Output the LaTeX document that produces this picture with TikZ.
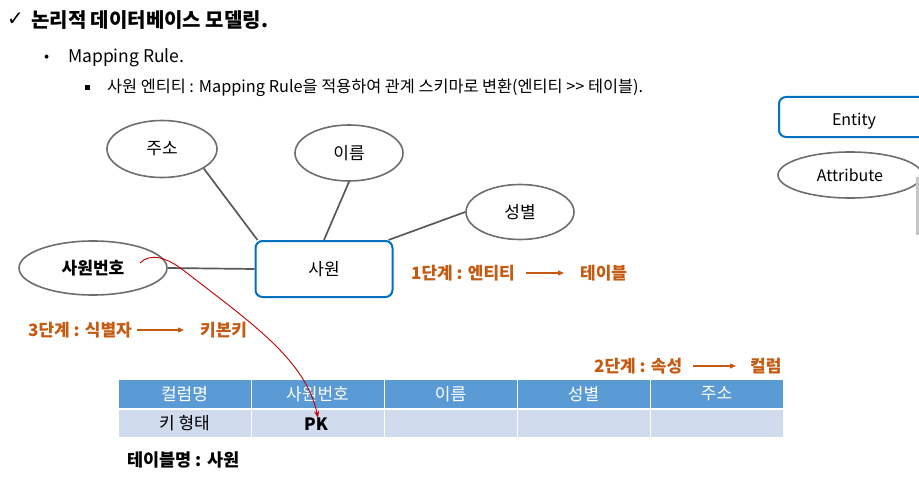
\documentclass[tikz,border=0pt]{standalone}
\usepackage{fontspec}
\setmainfont{Noto Sans CJK KR}
\newfontfamily\symfont{DejaVu Sans}
\usetikzlibrary{arrows.meta,shapes.geometric,calc}
\definecolor{orangec}{RGB}{197,90,17}
\definecolor{entblue}{RGB}{0,112,192}
\definecolor{hdrblue}{RGB}{91,155,213}
\definecolor{rowblue}{RGB}{208,220,238}
\definecolor{ellgray}{RGB}{110,110,110}
\definecolor{linegray}{RGB}{89,89,89}
\definecolor{redc}{RGB}{192,0,0}
\begin{document}
\begin{tikzpicture}[x=1pt,y=-1pt,
  attr/.style={ellipse,draw=ellgray,line width=1.6pt,inner sep=0pt,font=\fontsize{17}{20}\selectfont},
  entbox/.style={rectangle,rounded corners=7pt,draw=entblue,line width=2pt,inner sep=0pt,font=\fontsize{17}{20}\selectfont},
  link/.style={draw=linegray,line width=1.7pt},
  steptxt/.style={inner sep=0pt,anchor=west,text=orangec,font=\bfseries\fontsize{17}{20}\selectfont},
  steparrow/.style={draw=orangec,line width=1.4pt,-{Triangle[length=6pt,width=5pt]}},
  hdrcell/.style={rectangle,fill=hdrblue,draw=white,line width=1pt,minimum width=133pt,minimum height=29pt,inner sep=0pt,text=white,font=\fontsize{17}{20}\selectfont},
  rowcell/.style={rectangle,fill=rowblue,draw=white,line width=1pt,minimum width=133pt,minimum height=28pt,inner sep=0pt,font=\fontsize{17}{20}\selectfont},
  plain/.style={inner sep=0pt,anchor=west}
]
\clip (0,0) rectangle (919,487);
\fill[white] (0,0) rectangle (919,487);

% header texts
\node[plain] (chk) at (7,19) {\symfont\bfseries\fontsize{20}{24}\selectfont ✓};
\node[plain,font=\bfseries\fontsize{20}{24}\selectfont] (title) at (31,20) {논리적 데이터베이스 모델링.};
\node[plain,font=\fontsize{15}{18}\selectfont] (b1) at (44,58) {•};
\node[plain,font=\fontsize{17.5}{21}\selectfont] (t1) at (68,58) {Mapping Rule.};
\node[rectangle,fill=black,minimum size=5pt,inner sep=0pt] (b2) at (87,88) {};
\node[plain,font=\fontsize{16.3}{19}\selectfont] (t2) at (107,88) {사원 엔티티 : Mapping Rule을 적용하여 관계 스키마로 변환(엔티티 >{}> 테이블).};

% ER diagram
\node[attr,minimum width=110pt,minimum height=57pt] (addr) at (162,149) {주소};
\node[attr,minimum width=108pt,minimum height=56pt] (name) at (349,153) {이름};
\node[attr,minimum width=108pt,minimum height=55pt] (gender) at (520,212) {성별};
\node[attr,minimum width=148pt,minimum height=54pt,font=\bfseries\fontsize{17}{20}\selectfont] (sid) at (93,268) {사원번호};
\node[entbox,minimum width=137pt,minimum height=56pt] (ent) at (324,269) {사원};

\draw[link] (addr.-25) -- ([xshift=3pt]ent.north west);
\draw[link] (name.south) -- (ent.north);
\draw[link] (gender.west) -- ([xshift=-5pt]ent.north east);
\draw[link] (sid.east) -- (ent.west);

% step labels
\node[steptxt] (s1a) at (411,273) {1단계 : 엔티티};
\node[steptxt] (s1b) at (580,273) {테이블};
\draw[steparrow] ([xshift=11pt]s1a.east) -- ([xshift=-16pt]s1b.west);
\node[steptxt] (s3a) at (28,330) {3단계 : 식별자};
\node[steptxt] (s3b) at (200,330) {키본키};
\draw[steparrow] ([xshift=5pt]s3a.east) -- ([xshift=-16pt]s3b.west);
\node[steptxt] (s2a) at (594,366) {2단계 : 속성};
\node[steptxt] (s2b) at (750,366) {컬럼};
\draw[steparrow] ([xshift=11pt]s2a.east) -- ([xshift=-14pt]s2b.west);

% table
\node[hdrcell] (h1) at (184.5,394) {컬럼명};
\node[hdrcell] (h2) at (317.5,394) {사원번호};
\node[hdrcell] (h3) at (450.5,394) {이름};
\node[hdrcell] (h4) at (583.5,394) {성별};
\node[hdrcell] (h5) at (716.5,394) {주소};
\node[rowcell] (r1) at (184.5,423.5) {키 형태};
\node[rowcell] (r2) at (317.5,423.5) {};
\node[rowcell] (r3) at (450.5,423.5) {};
\node[rowcell] (r4) at (583.5,423.5) {};
\node[rowcell] (r5) at (716.5,423.5) {};
\node[inner sep=0pt,font=\bfseries\fontsize{17}{20}\selectfont] (pk) at (316,424) {PK};
\node[plain,font=\bfseries\fontsize{17.5}{21}\selectfont] (tname) at (127,460) {테이블명 : 사원};

% red arrow
\coordinate (rs) at (140,263);
\draw[redc,line width=0.9pt,-{Stealth[length=7pt,width=5pt]}] (rs) .. controls (150,253) and (166,256) .. (187,273)
  .. controls (250,322) and (306,360) .. (318,418);

% legend
\node[entbox,minimum width=150pt,minimum height=40pt,
  label={[yshift=-4pt,inner sep=0pt,font=\fontsize{16}{19}\selectfont]center:Entity}] (lent) at (854,117) {};
\node[attr,minimum width=144pt,minimum height=46pt,font=\fontsize{16}{19}\selectfont] (lattr) at (850,175) {Attribute};
\fill[gray!45] (915.5,177) rectangle (919,235);
\end{tikzpicture}
\end{document}
